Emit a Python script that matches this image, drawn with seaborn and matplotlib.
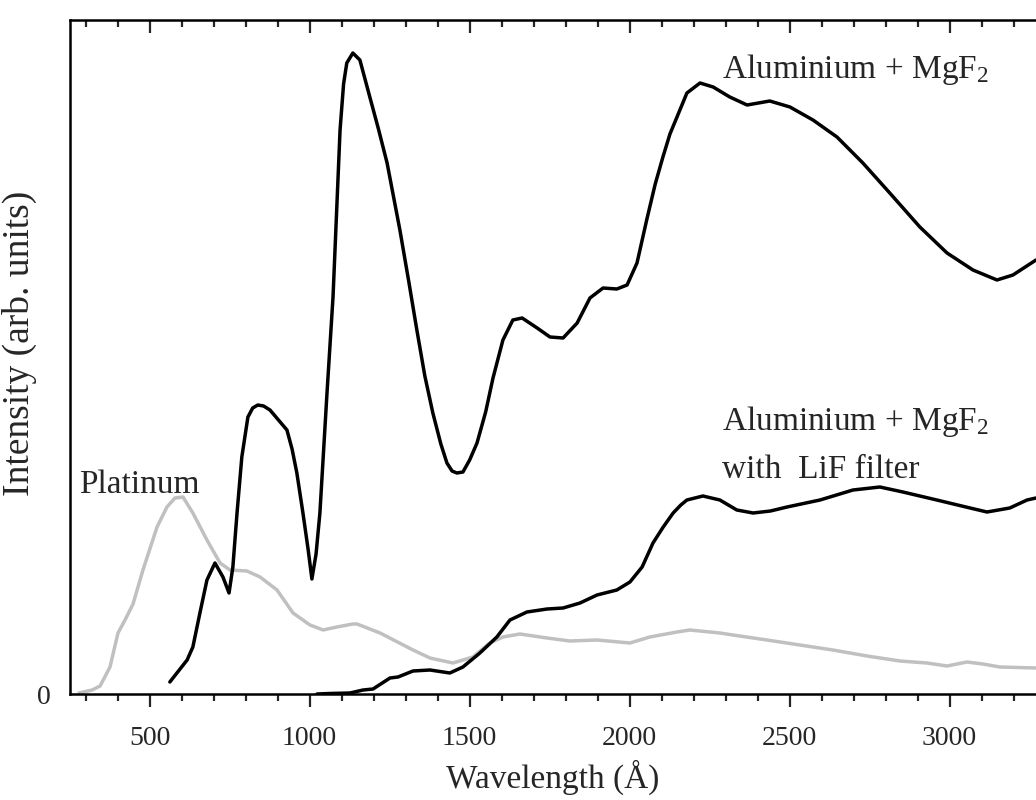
import matplotlib
matplotlib.use("Agg")
import matplotlib.pyplot as plt
import seaborn as sns
import pandas as pd

# ---------------- data (wavelength in Å, intensity in arb. units) ----------------
pt_wl = [279, 320, 345, 376, 401, 423, 448, 479, 523, 554, 579, 604, 635, 679, 720,
         751, 804, 845, 898, 948, 1001, 1042, 1085, 1135, 1148, 1220, 1323, 1376,
         1448, 1510, 1563, 1604, 1657, 1742, 1813, 1898, 2001, 2063, 2148, 2188,
         2282, 2323, 2429, 2532, 2635, 2742, 2845, 2929, 2992, 3054, 3104, 3157, 3270]
pt_int = [1, 4, 8, 27, 61, 74, 90, 124, 167, 187, 196, 197, 181, 154, 131,
          124, 123, 117, 104, 81, 69, 64, 67, 70, 70, 61, 44, 36,
          31, 37, 51, 57, 60, 56, 53, 54, 51, 57, 62, 64,
          61, 59, 54, 49, 44, 38, 33, 31, 28, 32, 30, 27, 26]

al_wl = [563, 617, 635, 657, 679, 704, 729, 748, 760, 773, 788, 807, 822, 838, 856,
         876, 929, 945, 960, 979, 995, 1007, 1020, 1032, 1054, 1073, 1095, 1106,
         1116, 1135, 1157, 1188, 1215, 1242, 1282, 1310, 1335, 1360, 1385, 1410,
         1429, 1445, 1460, 1479, 1500, 1523, 1550, 1573, 1604, 1635, 1664, 1711,
         1751, 1792, 1836, 1876, 1917, 1960, 1992, 2023, 2054, 2080, 2104, 2126,
         2148, 2179, 2220, 2261, 2313, 2367, 2438, 2501, 2573, 2648, 2729, 2813,
         2907, 2992, 3073, 3148, 3198, 3270]
al_int = [12, 34, 47, 81, 114, 131, 117, 101, 127, 181, 237, 277, 286, 289, 288,
          284, 264, 245, 221, 181, 145, 115, 140, 181, 300, 397, 564, 610,
          631, 641, 634, 597, 565, 531, 464, 412, 364, 318, 281, 250,
          231, 223, 221, 222, 234, 251, 282, 316, 354, 374, 376, 366,
          357, 356, 371, 396, 406, 405, 409, 431, 475, 510, 537, 560,
          577, 601, 611, 607, 597, 589, 593, 587, 574, 557, 531, 501,
          467, 441, 424, 414, 419, 434]

lif_wl = [1023, 1063, 1126, 1167, 1198, 1251, 1276, 1323, 1376, 1438, 1479, 1532,
          1585, 1626, 1679, 1742, 1792, 1845, 1898, 1960, 2001, 2039, 2073, 2105,
          2136, 2160, 2179, 2229, 2282, 2335, 2386, 2440, 2492, 2595, 2698, 2782,
          2854, 2960, 3064, 3117, 3188, 3242, 3270]
lif_int = [0, 0.5, 1, 4, 5, 16, 17, 23, 24, 21, 27, 41,
           57, 74, 82, 85, 86, 91, 99, 104, 112, 127, 151, 167,
           181, 189, 194, 198, 194, 184, 181, 183, 187, 194, 204, 207,
           202, 194, 186, 182, 186, 194, 196]

labels = ["Platinum", "Aluminium + MgF$_2$", "Aluminium + MgF$_2$", "with  LiF filter"]

# ---------------- style ----------------
sns.set_style("ticks")
plt.rcParams["font.family"] = ["Liberation Serif", "DejaVu Serif"]
plt.rcParams["mathtext.fontset"] = "custom"
plt.rcParams["mathtext.rm"] = "Liberation Serif"
plt.rcParams["mathtext.it"] = "Liberation Serif:italic"

fig = plt.figure(figsize=(10.36, 8.0), dpi=100)
ax = fig.add_axes([70 / 1036, 106 / 800, 966 / 1036, 674 / 800])

df_pt = pd.DataFrame({"wl": pt_wl, "I": pt_int})
df_al = pd.DataFrame({"wl": al_wl, "I": al_int})
df_lif = pd.DataFrame({"wl": lif_wl, "I": lif_int})

sns.lineplot(data=df_pt, x="wl", y="I", ax=ax, color="#c0c0c0", lw=2.5, sort=False, estimator=None)
sns.lineplot(data=df_al, x="wl", y="I", ax=ax, color="black", lw=2.5, sort=False, estimator=None)
sns.lineplot(data=df_lif, x="wl", y="I", ax=ax, color="black", lw=2.5, sort=False, estimator=None)

ax.set_xlim(251, 3270)
ax.set_ylim(0, 674)

ax.set_xticks([500, 1000, 1500, 2000, 2500, 3000])
ax.set_xticks(range(300, 3300, 100), minor=True)
ax.set_yticks([0])
ax.set_yticklabels(["0"])

for s in ["left", "bottom", "top"]:
    ax.spines[s].set_linewidth(1.8)
    ax.spines[s].set_color("black")
ax.spines["right"].set_visible(False)

ax.tick_params(axis="x", which="major", direction="out", length=9, width=1.6,
               labelsize=20, pad=14, top=True)
ax.tick_params(axis="x", which="minor", direction="out", length=5, width=1.6, top=True)
ax.tick_params(axis="y", length=0, labelsize=20, pad=14)
# top ticks point inward
for t in ax.xaxis.get_major_ticks() + ax.xaxis.get_minor_ticks():
    t.tick2line.set_marker(matplotlib.lines.TICKDOWN)

ax.set_xlabel("Wavelength (Å)", fontsize=24)
ax.xaxis.set_label_coords(0.5, -0.098)
ax.set_ylabel("Intensity (arb. units)", fontsize=27)
ax.yaxis.set_label_coords(-0.034, 0.52)

ax.text(279, 201, labels[0], fontsize=24, va="baseline", ha="left")
ax.text(2288, 616, labels[1], fontsize=24, va="baseline", ha="left")
ax.text(2288, 264, labels[2], fontsize=24, va="baseline", ha="left")
ax.text(2288, 216, labels[3], fontsize=24, va="baseline", ha="left")

fig.savefig("out.png", dpi=100)
